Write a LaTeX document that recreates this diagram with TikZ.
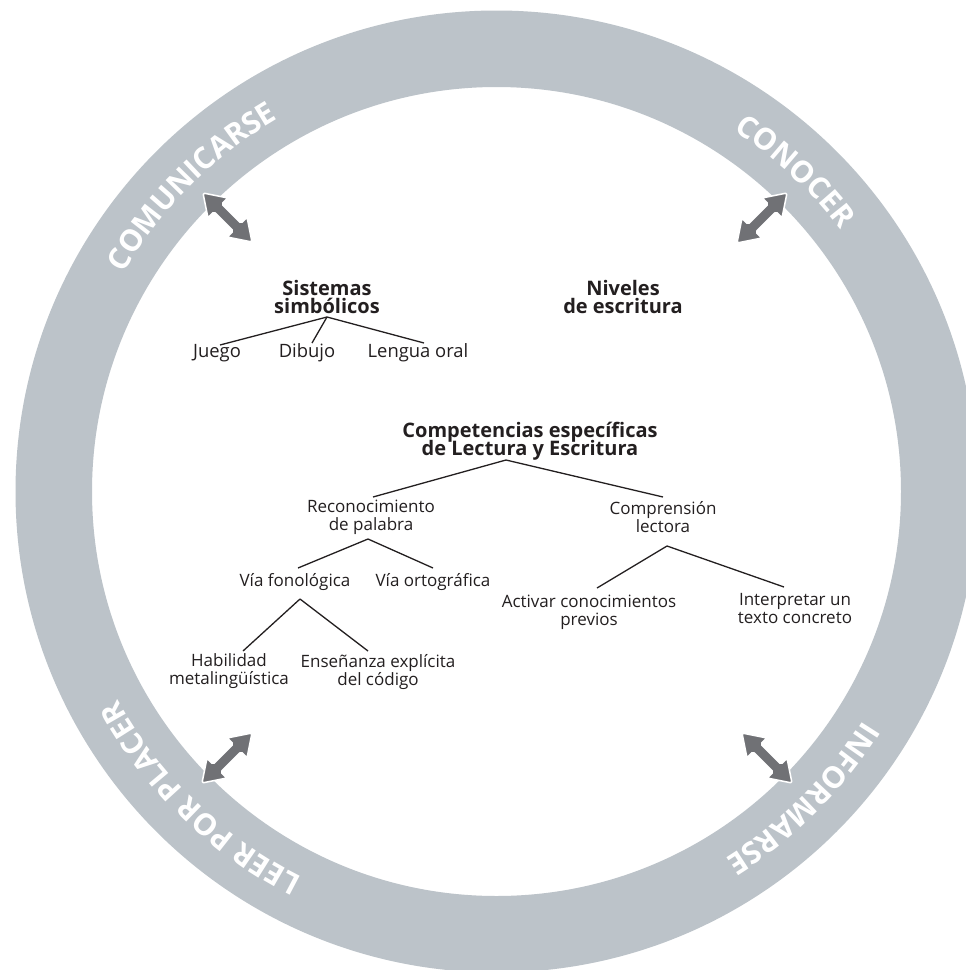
\documentclass[tikz,border=0pt]{standalone}
\usepackage{fontspec}
\setmainfont{Open Sans}
\usetikzlibrary{decorations.text,calc}

\definecolor{ringgrey}{HTML}{BCC3C9}
\definecolor{arrowgrey}{HTML}{707175}
\definecolor{ink}{HTML}{231F20}

% arrow geometry
\newcommand{\ahl}{21pt}   % head length
\newcommand{\ahw}{14pt}   % head half width
\newcommand{\asw}{5.5pt}  % shaft half width
% tight leading for two-line labels
\newcommand{\tightlines}{\lineskiplimit=-20pt\relax}

\tikzset{
  x=1pt, y=1pt,
  leaf/.style={font=\fontsize{17}{18}\selectfont\tightlines, align=center, inner sep=0pt, text=ink},
  bigleaf/.style={leaf, font=\fontsize{18.4}{19}\selectfont\tightlines},
  head/.style={font=\fontsize{20}{18.5}\selectfont\bfseries\tightlines, align=center, inner sep=0pt, text=ink},
  branch/.style={draw=ink, line width=1.3pt},
  ringlabel/.style={decorate, decoration={text along path, text align=center,
      text color=white, text={|\fontsize{30}{30}\selectfont\bfseries|#1}}},
  dblarrow/.style={fill=arrowgrey, draw=white, line width=1.5pt, line join=round,
    rounded corners=1.5pt,
    to path={
      -- ($(\tikztostart)!\ahl!(\tikztotarget)!\ahw!90:(\tikztotarget)$)
      -- ($(\tikztostart)!\ahl!(\tikztotarget)!\asw!90:(\tikztotarget)$)
      -- ($(\tikztotarget)!\ahl!(\tikztostart)!\asw!-90:(\tikztostart)$)
      -- ($(\tikztotarget)!\ahl!(\tikztostart)!\ahw!-90:(\tikztostart)$)
      -- (\tikztotarget)
      -- ($(\tikztotarget)!\ahl!(\tikztostart)!\ahw!90:(\tikztostart)$)
      -- ($(\tikztotarget)!\ahl!(\tikztostart)!\asw!90:(\tikztostart)$)
      -- ($(\tikztostart)!\ahl!(\tikztotarget)!\asw!-90:(\tikztotarget)$)
      -- ($(\tikztostart)!\ahl!(\tikztotarget)!\ahw!-90:(\tikztotarget)$)
      -- cycle}}
}

\begin{document}
\begin{tikzpicture}
  \useasboundingbox (0,0) rectangle (966,-970);
  \clip (0,0) rectangle (966,-970);
  \fill[white] (0,0) rectangle (966,-970);

  % the ring
  \coordinate (c) at (496.5,-491.5);
  \fill[ringgrey, even odd rule] (c) circle[radius=481] (c) circle[radius=404.5];

  % ring labels, read clockwise
  \path[ringlabel=COMUNICARSE] ($(c)+(195:432)$) arc[start angle=195, end angle=75, radius=432];
  \path[ringlabel=CONOCER] ($(c)+(107:432)$) arc[start angle=107, end angle=-13, radius=432];
  \path[ringlabel=INFORMARSE] ($(c)+(15:432)$) arc[start angle=15, end angle=-105, radius=432];
  \path[ringlabel=LEER POR PLACER] ($(c)+(-74:432)$) arc[start angle=-74, end angle=-194, radius=432];

  % arrows between the ring and the centre
  \coordinate (comOut) at (203,-193);  \coordinate (comIn) at (252,-242);
  \coordinate (conOut) at (787,-193);  \coordinate (conIn) at (737,-243);
  \coordinate (leeOut) at (202,-783);  \coordinate (leeIn) at (252,-733);
  \coordinate (infOut) at (792,-783);  \coordinate (infIn) at (742,-733);
  \draw[dblarrow] (comOut) to (comIn);
  \draw[dblarrow] (conOut) to (conIn);
  \draw[dblarrow] (leeOut) to (leeIn);
  \draw[dblarrow] (infOut) to (infIn);

  % symbolic systems
  \node[head] (sis) at (327,-297) {Sistemas\\simbólicos};
  \node[head] (niv) at (623,-297) {Niveles\\de escritura};
  \node[bigleaf] (jue) at (217,-353) {Juego};
  \node[bigleaf] (dib) at (307,-353) {Dibujo};
  \node[bigleaf] (len) at (418,-353) {Lengua oral};
  \coordinate (sisA) at (327,-317);
  \draw[branch] (sisA) -- (220,-345);
  \draw[branch] (sisA) -- (312,-343);
  \draw[branch] (sisA) -- (424,-343);

  % reading and writing competences
  \node[head] (comp) at (530,-441) {Competencias específicas\\de Lectura y Escritura};
  \node[leaf] (rec) at (371,-517) {Reconocimiento\\de palabra};
  \node[leaf] (cmp) at (663,-517) {Comprensión\\lectora};
  \node[leaf] (fon) at (295,-582) {Vía fonológica};
  \node[leaf] (ort) at (433,-582) {Vía ortográfica};
  \node[leaf] (hab) at (229,-671) {Habilidad\\metalingüística};
  \node[leaf] (ens) at (378,-672) {Enseñanza explícita\\del código};
  \node[leaf] (act) at (589,-612) {Activar conocimientos\\previos};
  \node[leaf] (int) at (795,-609) {Interpretar un\\texto concreto};

  \draw[branch] (506,-460) -- (373,-497);
  \draw[branch] (506,-460) -- (663,-497);
  \draw[branch] (368,-539) -- (298,-568);
  \draw[branch] (368,-539) -- (433,-568);
  \draw[branch] (300,-599) -- (243,-651);
  \draw[branch] (300,-599) -- (368,-651);
  \draw[branch] (667,-546) -- (597,-588);
  \draw[branch] (667,-546) -- (784,-587);
\end{tikzpicture}
\end{document}
